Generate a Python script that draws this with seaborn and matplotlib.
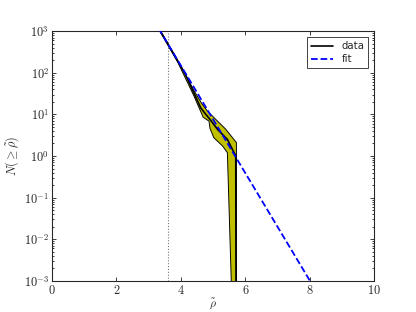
import numpy as np
import pandas as pd
import seaborn as sns
import matplotlib
matplotlib.use("Agg")
import matplotlib.pyplot as plt
from matplotlib.ticker import FuncFormatter, LogLocator

# curva N(>= rho) observada
data_x = [3.30, 3.36, 4.14, 4.40, 4.61, 4.77, 4.90, 5.13, 5.44, 5.70, 5.71]
data_y = [1200, 1000, 91, 33, 14.5, 10, 7.6, 4.4, 2.5, 1.0, 1e-4]

# faixa de erro (limites superior e inferior)
upper_x = [3.30, 3.90, 4.40, 4.63, 4.82, 5.39, 5.72, 5.72]
upper_y = [1250, 200, 38, 19, 12, 4.4, 2.1, 1e-4]
lower_x = [3.30, 3.90, 4.40, 4.69, 4.87, 4.90, 5.02, 5.29, 5.44, 5.56]
lower_y = [1150, 180, 28, 8.5, 6.9, 4.6, 2.75, 1.74, 1.2, 1e-3]

# ajuste
fit_x = [3.0, 8.0]
fit_y = [2900, 0.001]

cut_x = 3.6

sns.set_style("ticks")
plt.rcParams["mathtext.fontset"] = "cm"
plt.rcParams["font.family"] = ["DejaVu Sans"]

fig, ax = plt.subplots(figsize=(8, 6), dpi=52)
fig.subplots_adjust(left=0.125, right=0.9, bottom=0.1, top=0.9)

ax.fill(upper_x + lower_x[::-1], upper_y + lower_y[::-1],
        facecolor=(0.75, 0.75, 0), edgecolor="black", linewidth=1.3, zorder=2)

df_data = pd.DataFrame({"x": data_x, "y": data_y})
df_fit = pd.DataFrame({"x": fit_x, "y": fit_y})
sns.lineplot(data=df_data, x="x", y="y", color="black", linewidth=2.3,
             estimator=None, sort=False, label="data", ax=ax, zorder=3)
sns.lineplot(data=df_fit, x="x", y="y", color="blue", linewidth=2.5,
             linestyle="--", dashes=(2.5, 3), estimator=None, label="fit", ax=ax, zorder=4)
ax.axvline(cut_x, color="0.45", linestyle=":", linewidth=1.5, zorder=1)

ax.set_yscale("log")
ax.set_xlim(0, 10)
ax.set_ylim(1e-3, 1e3)
ax.yaxis.set_major_locator(LogLocator(base=10, numticks=10))
ax.yaxis.set_minor_locator(LogLocator(base=10, subs=np.arange(2, 10), numticks=20))
ax.set_xticks(range(0, 11, 2))
ax.xaxis.set_major_formatter(FuncFormatter(lambda v, p: f"${int(v)}$"))
ax.yaxis.set_major_formatter(FuncFormatter(lambda v, p: f"$10^{{{int(round(np.log10(v)))}}}$"))
ax.tick_params(which="both", direction="in", top=True, right=True, labelsize=17, width=1.2)
ax.tick_params(which="major", length=6, pad=4)
ax.tick_params(which="minor", length=3)
ax.xaxis.offsetText.set_visible(False)
ax.yaxis.offsetText.set_visible(False)
for s in ax.spines.values():
    s.set_linewidth(1.5)

ax.set_xlabel(r"$\tilde{\rho}$", fontsize=16, labelpad=0)
ax.set_ylabel(r"$N(\geq\tilde{\rho})$", fontsize=17)
ax.legend(loc="upper right", fontsize=14, handlelength=2.2, fancybox=False,
          edgecolor="black", framealpha=1, borderaxespad=0.6, labelspacing=0.3)

fig.savefig("out.png", dpi=52)
